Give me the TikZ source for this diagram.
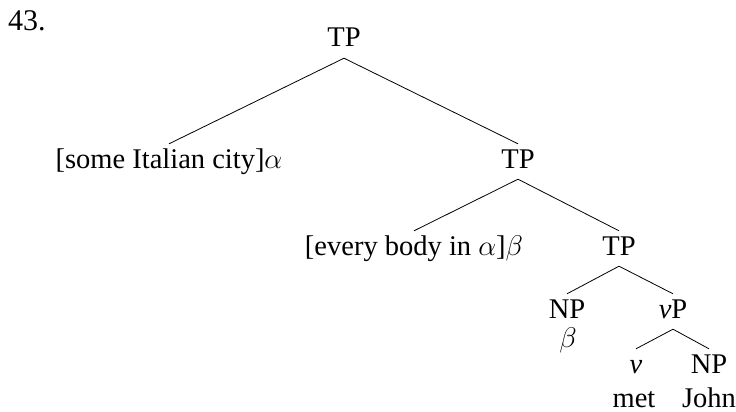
\documentclass[tikz,border=0pt]{standalone}
\usepackage{fix-cm}
\usepackage{fontspec}
\setmainfont{Liberation Serif}
\begin{document}
\begin{tikzpicture}[x=1pt,y=-1pt,
  lab/.style={anchor=base,inner sep=4pt,text height=20pt,text depth=7pt,font=\fontsize{28.5}{34}\selectfont},
  plain/.style={anchor=base,inner sep=0pt,font=\fontsize{28.5}{34}\selectfont},
  edge/.style={draw=black,line width=0.8pt}]
\useasboundingbox (0,0) rectangle (736,412);
\node[plain,font=\fontsize{30}{36}\selectfont,anchor=base west] (num) at (8,31) {43.};
\node[lab] (tp1) at (344,47) {TP};
\node[lab] (sic) at (169,168) {[some Italian city]$\alpha$};
\node[lab] (tp2) at (518,168) {TP};
\node[lab] (ebi) at (414,255) {[every body in $\alpha$]$\beta$};
\node[lab] (tp3) at (619,255) {TP};
\node[lab] (np1) at (567,318) {NP};
\node[plain] (beta) at (568,347) {$\beta$};
\node[lab] (vp) at (673,318) {\textit{v}P};
\node[lab] (v) at (636,373) {\textit{v}};
\node[lab] (np2) at (709,373) {NP};
\node[plain] (met) at (634,407) {met};
\node[plain] (john) at (709,407) {John};
\draw[edge] (tp1.south) -- (sic.north);
\draw[edge] (tp1.south) -- (tp2.north);
\draw[edge] (tp2.south) -- (ebi.north);
\draw[edge] (tp2.south) -- (tp3.north);
\draw[edge] (tp3.south) -- (np1.north);
\draw[edge] (tp3.south) -- (vp.north);
\draw[edge] (vp.south) -- (v.north);
\draw[edge] (vp.south) -- (np2.north);
\end{tikzpicture}
\end{document}
